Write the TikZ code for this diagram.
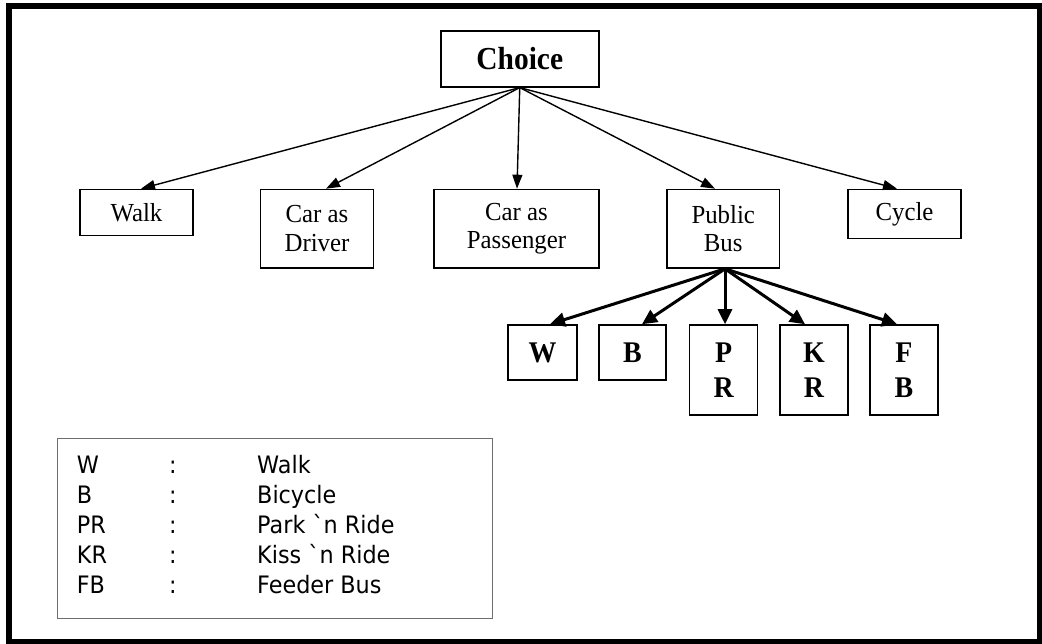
\documentclass[tikz,border=0pt]{standalone}
\usepackage{fontspec}
\setmainfont{Liberation Serif}
\newfontfamily\lvlfont[FakeStretch=0.955]{Liberation Serif}
\newfontfamily\rootfont[FakeStretch=0.92]{Liberation Serif}
\newfontfamily\subfont[FakeStretch=0.93]{Liberation Serif}
\newfontfamily\legendfont[FakeStretch=0.93,Ligatures=TeXOff]{DejaVu Sans}
\usetikzlibrary{arrows.meta,calc}
\definecolor{legendgray}{RGB}{110,110,110}
\begin{document}
\begin{tikzpicture}[x=1pt,y=-1pt,
  box/.style={draw=black,line width=1.6pt,inner sep=0pt,align=center},
  lvl/.style={box,font=\lvlfont\fontsize{26}{28.7}\selectfont},
  subbox/.style={box,font=\subfont\fontsize{30}{35}\selectfont\bfseries},
  thinarrow/.style={-{Triangle[length=14pt,width=10pt]},line width=1.4pt},
  thickarrow/.style={-{Triangle[length=15pt,width=14pt]},line width=3pt},
  legtext/.style={anchor=base west,inner sep=0pt,font=\legendfont\fontsize{24}{30}\selectfont}]
\useasboundingbox (0,0) rectangle (1042,644);
\fill[white] (0,0) rectangle (1042,644);
\draw[line width=5.5pt] (9.2,6.2) rectangle (1039.5,642);

% root
\node[box,line width=2pt,minimum width=158.5pt,minimum height=55.4pt,
      font=\rootfont\fontsize{32}{36}\selectfont\bfseries] (choice) at (519.75,58.9) {Choice};

% level 2
\node[lvl,minimum width=113pt,minimum height=46pt] (walk) at (136.5,212.5) {Walk};
\node[lvl,minimum width=113pt,minimum height=78.5pt] (driver) at (317,228.75) {Car as\\Driver};
\node[lvl,minimum width=165pt,minimum height=78.5pt] (passenger) at (516.5,228.75) {Car as\\Passenger};
\node[lvl,minimum width=112.5pt,minimum height=78.5pt] (bus) at (723.25,228.75) {Public\\Bus};
\node[lvl,minimum width=113pt,minimum height=49pt] (cycle) at (904.5,214) {Cycle};

\draw[thinarrow] (choice.south) -- ($(walk.north)+(4.5,0)$);
\draw[thinarrow] (choice.south) -- ($(driver.north)+(9,0)$);
\draw[thinarrow] (choice.south) -- ($(passenger.north)+(0.5,0)$);
\draw[thinarrow] (choice.south) -- ($(bus.north)+(-8.25,0)$);
\draw[thinarrow] (choice.south) -- ($(cycle.north)+(-7.5,0)$);

% level 3
\node[subbox,minimum width=69pt,minimum height=55pt] (w) at (542.5,352.5) {W};
\node[subbox,minimum width=67pt,minimum height=55pt] (b) at (632.5,352.5) {B};
\node[subbox,minimum width=68pt,minimum height=90pt] (pr) at (723.6,370) {P\\R};
\node[subbox,minimum width=68pt,minimum height=90pt] (kr) at (814,370) {K\\R};
\node[subbox,minimum width=68pt,minimum height=90pt] (fb) at (904,370) {F\\B};

\coordinate (busout) at ($(bus.south)+(1.75,0)$);
\draw[thickarrow] (busout) -- ($(w.north)+(7.5,0)$);
\draw[thickarrow] (busout) -- ($(b.north)+(9.5,0)$);
\draw[thickarrow] (busout) -- ($(pr.north)+(1.4,0)$);
\draw[thickarrow] (busout) -- ($(kr.north)+(-9,0)$);
\draw[thickarrow] (busout) -- ($(fb.north)+(-7,0)$);

% legend
\node[draw=legendgray,line width=1.3pt,minimum width=435pt,minimum height=180pt,
      inner sep=0pt,anchor=north west] (legend) at (57,438) {};
\node[legtext] (l1a) at (76.7,473.3) {W};
\node[legtext] (l1b) at (169,473.3) {:};
\node[legtext] (l1c) at (257,473.3) {Walk};
\node[legtext] (l2a) at (76.7,503.3) {B};
\node[legtext] (l2b) at (169,503.3) {:};
\node[legtext] (l2c) at (257,503.3) {Bicycle};
\node[legtext] (l3a) at (76.7,533.3) {PR};
\node[legtext] (l3b) at (169,533.3) {:};
\node[legtext] (l3c) at (257,533.3) {Park `n Ride};
\node[legtext] (l4a) at (76.7,563.3) {KR};
\node[legtext] (l4b) at (169,563.3) {:};
\node[legtext] (l4c) at (257,563.3) {Kiss `n Ride};
\node[legtext] (l5a) at (76.7,593.3) {FB};
\node[legtext] (l5b) at (169,593.3) {:};
\node[legtext] (l5c) at (257,593.3) {Feeder Bus};
\end{tikzpicture}
\end{document}
